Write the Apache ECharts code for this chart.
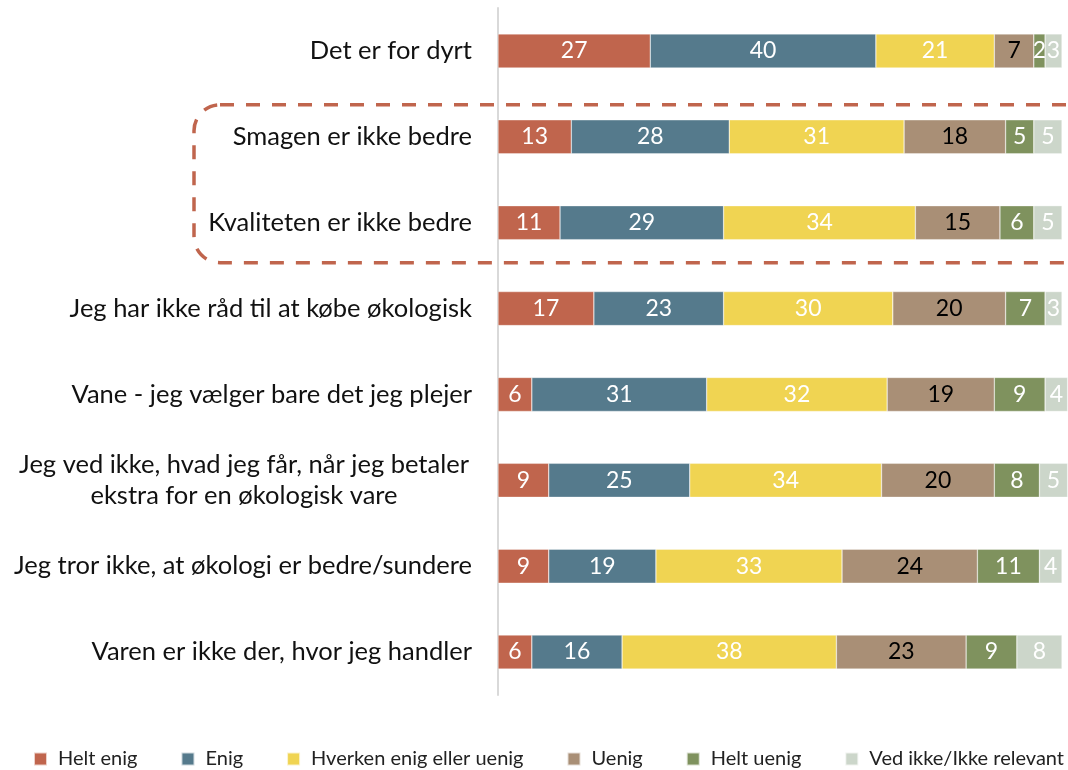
<!DOCTYPE html>
<html>
<head>
<meta charset="utf-8">
<script src="https://cdn.jsdelivr.net/npm/echarts@6/dist/echarts.min.js"></script>
<style>
  html, body { margin: 0; padding: 0; background: #fff; }
  #chart { width: 1068px; height: 770px; }
</style>
</head>
<body>
<div id="chart"></div>
<script>
// categories (top to bottom)
const categories = [
  'Det er for dyrt',
  'Smagen er ikke bedre',
  'Kvaliteten er ikke bedre',
  'Jeg har ikke råd til at købe økologisk',
  'Vane - jeg vælger bare det jeg plejer',
  'Jeg ved ikke, hvad jeg får, når jeg betaler\nekstra for en økologisk vare',
  'Jeg tror ikke, at økologi er bedre/sundere',
  'Varen er ikke der, hvor jeg handler'
];
const seriesNames = ['Helt enig', 'Enig', 'Hverken enig eller uenig', 'Uenig', 'Helt uenig', 'Ved ikke/Ikke relevant'];
const heltEnig  = [27, 13, 11, 17, 6, 9, 9, 6];
const enig      = [40, 28, 29, 23, 31, 25, 19, 16];
const hverken   = [21, 31, 34, 30, 32, 34, 33, 38];
const uenig     = [7, 18, 15, 20, 19, 20, 24, 23];
const heltUenig = [2, 5, 6, 7, 9, 8, 11, 9];
const vedIkke   = [3, 5, 5, 3, 4, 5, 4, 8];

const colors = ['#C0654D', '#557A8C', '#F0D452', '#A98F76', '#7F925E', '#CCD6CA'];
const labelColors = ['#fff', '#fff', '#fff', '#000', '#fff', '#fff'];
const FONT = 'Lato';

const chart = echarts.init(document.getElementById('chart'));

const allData = [heltEnig, enig, hverken, uenig, heltUenig, vedIkke];

const option = {
  backgroundColor: '#fff',
  animation: false,
  color: colors,
  grid: { left: 498, right: 6, top: 8, bottom: 75 },
  legend: {
    top: 749,
    left: 33,
    width: 1035,
    padding: 0,
    itemWidth: 13,
    itemHeight: 13,
    itemGap: 43,
    icon: 'rect',
    textStyle: { fontFamily: FONT, fontSize: 20, color: '#222', padding: [0, 0, 0, 6] },
    data: seriesNames
  },
  xAxis: {
    type: 'value',
    min: 0,
    max: 100,
    show: false
  },
  yAxis: {
    type: 'category',
    inverse: true,
    data: categories,
    axisTick: { show: false },
    axisLine: { show: true, lineStyle: { color: '#D9D9D9', width: 2 } },
    axisLabel: {
      margin: 26,
      fontFamily: FONT,
      fontSize: 25.5,
      color: '#111',
      lineHeight: 31,
      formatter: function (v) {
        if (v.indexOf('\n') >= 0) {
          return v.split('\n').map(s => '{c|' + s + '}').join('\n');
        }
        return v;
      },
      rich: {
        c: { width: 456, align: 'center', fontFamily: FONT, fontSize: 25.5, color: '#111', lineHeight: 31 }
      }
    }
  },
  series: seriesNames.map((name, i) => ({
    name: name,
    type: 'bar',
    stack: 'total',
    barWidth: 34,
    clip: false,
    itemStyle: { color: colors[i], borderColor: 'rgba(255,255,255,0.7)', borderWidth: 0.5 },
    label: {
      show: true,
      position: 'inside',
      fontFamily: FONT,
      fontSize: 23,
      color: labelColors[i]
    },
    data: allData[i]
  }))
};

chart.setOption(option);

// dashed rounded box around rows 2 and 3 (right edge runs off the canvas)
const yRow2 = chart.convertToPixel({ yAxisIndex: 0 }, categories[1]);
const yRow3 = chart.convertToPixel({ yAxisIndex: 0 }, categories[2]);
const boxTop = yRow2 - 32, boxBot = yRow3 + 40, boxLeft = 194;
chart.setOption({
  graphic: [{
    type: 'rect',
    shape: { x: boxLeft, y: boxTop, width: 1200 - boxLeft, height: boxBot - boxTop, r: [26, 0, 0, 26] },
    style: { fill: null, stroke: '#C0654D', lineWidth: 3.5, lineDash: [14, 12] },
    z: 10
  }]
});
</script>
</body>
</html>
